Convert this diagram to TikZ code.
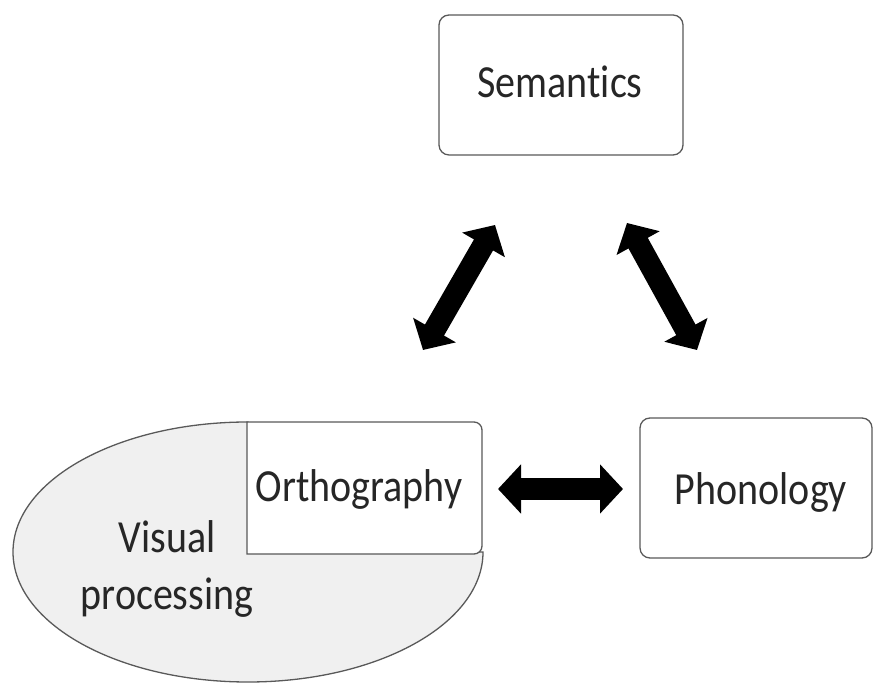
\documentclass[tikz,border=0pt]{standalone}
\usepackage{fontspec}
\setmainfont{Carlito}[Ligatures=NoCommon]
\usetikzlibrary{arrows.meta}
\newcommand{\tall}[1]{\scalebox{1}[1.15]{#1}}
\tikzset{
  box/.style={draw=black!65, line width=1.3pt, fill=white, rounded corners=10pt, inner sep=0pt},
  lbl/.style={anchor=base, inner sep=0pt, text=black!85, font=\fontsize{40}{48}\selectfont},
  fat/.style={line width=22pt, black, {Triangle[width=48pt,length=23pt]}-{Triangle[width=48pt,length=23pt]}}
}
\begin{document}
\begin{tikzpicture}[x=1pt,y=1pt]
\useasboundingbox (0,0) rectangle (874,684);
% ellipse (visual processing) with top-right quadrant under the orthography box
\draw[draw=black!65, line width=1.3pt, fill=black!6] (248,262) arc[start angle=90, end angle=360, x radius=235, y radius=130] -- (248,132) -- cycle;
% orthography box, square left corners
\draw[draw=black!65, line width=1.3pt, fill=white] (247,130) -- (247,262) -- (474,262) arc[start angle=90, end angle=0, radius=8] -- (482,138) arc[start angle=0, end angle=-90, radius=8] -- cycle;
\node[box, minimum width=244pt, minimum height=140pt] (sem) at (561,599) {};
\node[box, minimum width=232pt, minimum height=140pt] (phon) at (756,196) {};
\node[lbl] (semt) at (560,586) {\tall{Semantics}};
\node[lbl] (ortht) at (359,182) {\tall{Orthography}};
\node[lbl] (phont) at (761,179) {\tall{Phonology}};
\node[lbl] (vis1) at (167,131) {\tall{Visual}};
\node[lbl] (vis2) at (167,74) {\tall{processing}};
% arrow end points
\coordinate (a1) at (423,334);
\coordinate (a2) at (495,459);
\coordinate (b1) at (627,461);
\coordinate (b2) at (697,334);
\coordinate (c1) at (498,195);
\coordinate (c2) at (623,195);
\draw[fat] (a1) -- (a2);
\draw[fat] (b1) -- (b2);
\draw[fat] (c1) -- (c2);
\end{tikzpicture}
\end{document}
